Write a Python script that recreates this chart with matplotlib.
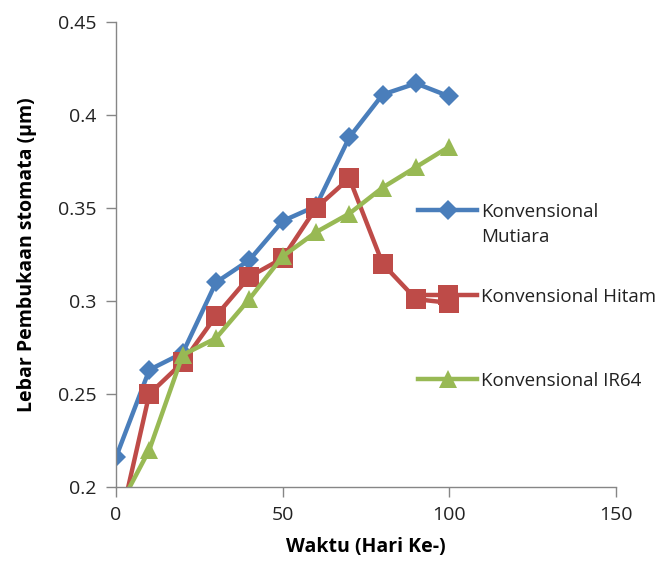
import matplotlib
matplotlib.use("Agg")
import matplotlib.pyplot as plt

plt.rcParams['font.family'] = ['Open Sans', 'DejaVu Sans']

days = [0, 10, 20, 30, 40, 50, 60, 70, 80, 90, 100]
mutiara = [0.216, 0.263, 0.272, 0.310, 0.322, 0.343, 0.351, 0.388, 0.411, 0.417, 0.410]
hitam = [0.171, 0.250, 0.267, 0.292, 0.313, 0.323, 0.350, 0.366, 0.320, 0.301, 0.299]
ir64 = [0.186, 0.220, 0.271, 0.280, 0.301, 0.324, 0.337, 0.347, 0.361, 0.372, 0.383]
labels = ["Konvensional\nMutiara", "Konvensional Hitam", "Konvensional IR64"]
colors = ["#4A7EBB", "#BE4B48", "#98B954"]
markers = ["D", "s", "^"]
msizes = [10, 14, 13]

xticks = [0, 50, 100, 150]
yticks = [0.2, 0.25, 0.3, 0.35, 0.4, 0.45]
yticklabels = ["0.2", "0.25", "0.3", "0.35", "0.4", "0.45"]

fig = plt.figure(figsize=(6.57, 5.75), dpi=100)
ax = fig.add_axes([116/657, 1-487/575, (616-116)/657, (487-22)/575])

handles = []
for ys, c, m, ms in zip([mutiara, hitam, ir64], colors, markers, msizes):
    h, = ax.plot(days, ys, color=c, marker=m, markersize=ms, linewidth=3.2,
                 markeredgewidth=0, solid_joinstyle='round')
    handles.append(h)

ax.set_xlim(0, 150)
ax.set_ylim(0.2, 0.45)
ax.set_xticks(xticks)
ax.set_xticklabels([str(t) for t in xticks])
ax.set_yticks(yticks)
ax.set_yticklabels(yticklabels)

for s in ['top', 'right']:
    ax.spines[s].set_visible(False)
for s in ['left', 'bottom']:
    ax.spines[s].set_color('#868686')
    ax.spines[s].set_linewidth(1.0)
ax.tick_params(axis='both', direction='out', length=7, width=1, color='#868686',
               labelsize=14, labelcolor='#222222', pad=7)

ax.set_xlabel("Waktu (Hari Ke-)", fontsize=14, fontweight='bold', labelpad=9)
ax.set_ylabel("Lebar Pembukaan stomata (µm)", fontsize=14, fontweight='bold', labelpad=15)

# legend entries placed individually
ypos = [212, 297, 381]
for h, lab, yp in zip(handles, labels, ypos):
    first, *rest = lab.split("\n")
    leg = fig.legend([h], [first], loc='center left',
                     bbox_to_anchor=(418/657, 1-yp/575), frameon=False,
                     fontsize=13.5, handlelength=3.15, handletextpad=0.2,
                     borderpad=0, borderaxespad=0)
    if rest:
        fig.text(481/657, 1-(yp+25)/575, rest[0], fontsize=13.5, va='center', ha='left',
                 color='#222222')
    for t in leg.get_texts():
        t.set_color('#222222')

fig.savefig("out.png", dpi=100)
